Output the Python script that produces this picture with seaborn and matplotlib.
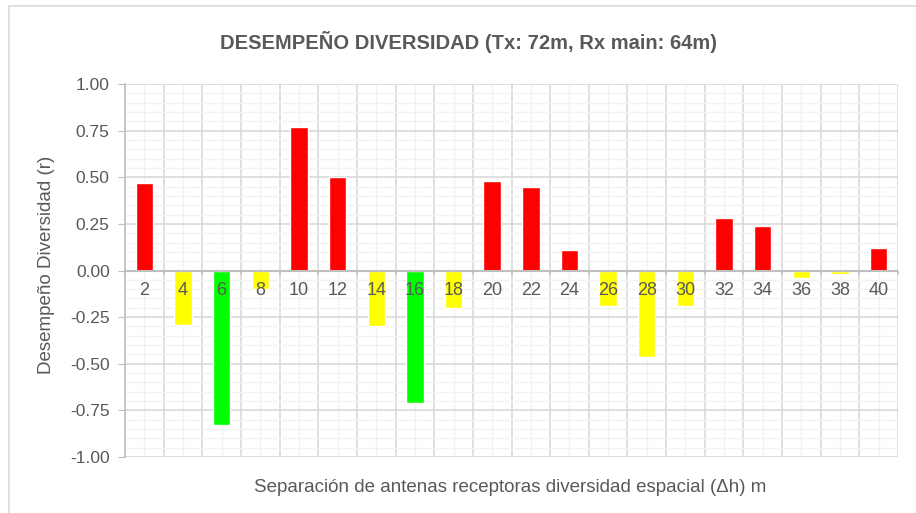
import numpy as np
import matplotlib.pyplot as plt
import seaborn as sns
import pandas as pd
from matplotlib.patches import Rectangle

# separacion (m) y desempeño de diversidad
separacion = [2, 4, 6, 8, 10, 12, 14, 16, 18, 20, 22, 24, 26, 28, 30, 32, 34, 36, 38, 40]
desempeno = [0.47, -0.29, -0.83, -0.10, 0.77, 0.50, -0.30, -0.71, -0.20, 0.48,
             0.45, 0.11, -0.19, -0.465, -0.19, 0.28, 0.24, -0.04, -0.02, 0.12]
yticks = [1.00, 0.75, 0.50, 0.25, 0.00, -0.25, -0.50, -0.75, -1.00]

sns.set_style("white")
plt.rcParams['font.family'] = ['Liberation Sans', 'DejaVu Sans']
gris = "#595959"

def color_de(v):
    if v > 0:
        return "#ff0000"
    if v < -0.5:
        return "#00ff00"
    return "#ffff00"

df = pd.DataFrame({"sep": [str(s) for s in separacion], "r": desempeno})
colores = [color_de(v) for v in desempeno]

fig = plt.figure(figsize=(9.16, 5.13), dpi=100)
ax = fig.add_axes([125/916, 1-457/513, (898-125)/916, (457-84)/513])

sns.barplot(data=df, x="sep", y="r", hue="sep", palette=colores, legend=False,
            width=0.45, saturation=1, ax=ax, zorder=3)

ax.set_xlim(-0.5, len(separacion)-0.5)
ax.set_ylim(-1, 1)

# grid
ax.set_xticks(np.arange(len(separacion)+1)-0.5)
ax.set_xticks(np.arange(len(separacion)), minor=True)
ax.set_yticks(yticks)
ax.set_yticks(np.arange(-1, 1.001, 0.05), minor=True)
ax.grid(which="major", color="#d9d9d9", lw=1.2, zorder=0)
ax.grid(which="minor", color="#f2f2f2", lw=1.0, zorder=0)
ax.set_axisbelow(True)
ax.set_xticklabels([])
ax.tick_params(axis="x", which="both", length=0)
ax.set_yticklabels([f"{t:.2f}" for t in yticks])
ax.tick_params(axis="y", which="major", length=5, color="#bfbfbf", labelsize=12.5,
               labelcolor=gris, pad=6, left=True)
ax.tick_params(axis="y", which="minor", length=0)
for s in ["top", "right", "bottom"]:
    ax.spines[s].set_visible(False)
ax.spines["left"].set_color("#bfbfbf")
ax.spines["left"].set_linewidth(1.2)
ax.axhline(0, color="#bfbfbf", lw=1.5, zorder=4)
for i in range(len(separacion)+1):
    ax.plot([i-0.5, i-0.5], [0, -0.02], color="#bfbfbf", lw=1.2, zorder=4, clip_on=False)

for i, s in enumerate(separacion):
    ax.annotate(str(s), (i, 0), xytext=(0, -8), textcoords="offset points",
                ha="center", va="top", fontsize=13, color=gris, zorder=5)

ax.set_xlabel("")
ax.set_ylabel("")
fig.text(468/916, 1-42/513, "DESEMPEÑO DIVERSIDAD (Tx: 72m, Rx main: 64m)",
         ha="center", va="center", fontsize=14.5, fontweight="bold", color=gris)
fig.text(47/916, 1-265/513, "Desempeño Diversidad (r)", rotation=90,
         ha="center", va="center", fontsize=13.5, color=gris)
fig.text(510/916, 1-488/513, "Separación de antenas receptoras diversidad espacial (Δh) m",
         ha="center", va="center", fontsize=13.5, color=gris)

fig.patches.append(Rectangle((9/916, -0.05), 1.0, 1.05-6/513, transform=fig.transFigure,
                             fill=False, edgecolor="#d9d9d9", lw=1.2))

fig.savefig("out.png", dpi=100)
